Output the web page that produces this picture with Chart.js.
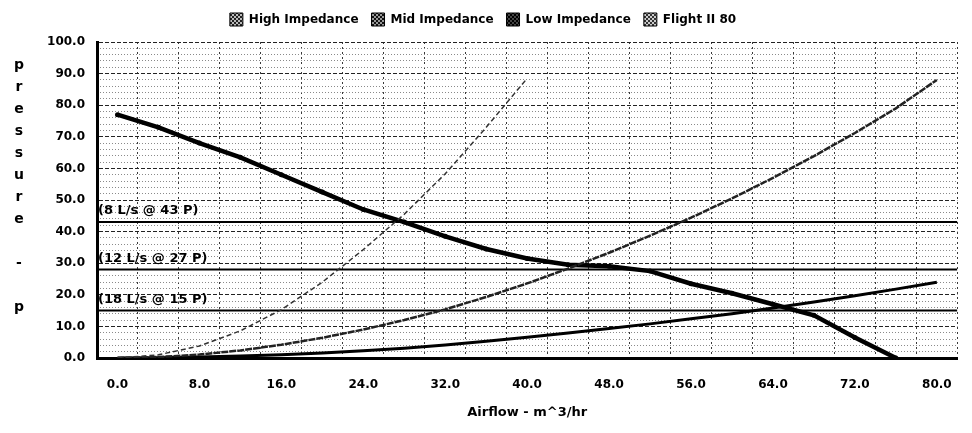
<!DOCTYPE html>
<html>
<head>
<meta charset="utf-8">
<script src="https://cdn.jsdelivr.net/npm/chart.js@4.4.0/dist/chart.umd.min.js"></script>
<style>
  html, body { margin: 0; padding: 0; background: #fff; }
  #wrap { position: relative; width: 972px; height: 433px; }
</style>
</head>
<body>
<div id="wrap"><canvas id="chart" width="972" height="433"></canvas></div>
<script>
const seriesNames = ["High Impedance", "Mid Impedance", "Low Impedance", "Flight II 80"];

// system curves (airflow m^3/hr -> pressure)
const highFlow = [0, 4, 8, 12, 16, 20, 24, 28, 32, 36, 40];
const highPressure = [0, 1.0, 3.8, 8.6, 15.3, 24.0, 34.3, 45.5, 58.3, 73.0, 88.5];

const impFlow = [0, 4, 8, 12, 16, 20, 24, 28, 32, 36, 40, 44, 48, 52, 56, 60, 64, 68, 72, 76, 80];
const midPressure = [0, 0.3, 1.1, 2.4, 4.2, 6.4, 9.0, 12.0, 15.4, 19.3, 23.6, 28.3, 33.3, 38.7, 44.4, 50.5, 57.0, 63.9, 71.2, 79.0, 88.0];
const lowPressure = [0, 0.1, 0.3, 0.6, 1.0, 1.6, 2.3, 3.1, 4.1, 5.3, 6.6, 7.9, 9.3, 10.8, 12.4, 14.0, 15.8, 17.7, 19.7, 21.8, 24.0];

// fan curve
const fanFlow = [0, 4, 8, 12, 16, 20, 24, 28, 32, 36, 40, 44, 48, 52, 56, 60, 64, 68, 72, 76];
const fanPressure = [77, 73, 68, 63.5, 58, 52.5, 47, 43, 38.5, 34.5, 31.5, 29.5, 29, 27.5, 23.5, 20.5, 17, 13.5, 6.5, 0];

// operating point lines
const refLabels = ["(8 L/s @ 43 P)", "(12 L/s @ 27 P)", "(18 L/s @ 15 P)"];
const refPressure = [43, 28, 15];

const xTicks = [0, 8, 16, 24, 32, 40, 48, 56, 64, 72, 80];
const yTicks = [0, 10, 20, 30, 40, 50, 60, 70, 80, 90, 100];
const xTitle = "Airflow - m^3/hr";
const yTitle = "pressure - p";

const xMin = -2;
const xMax = 82;

Chart.defaults.font.family = "'DejaVu Sans', sans-serif";
Chart.defaults.font.size = 12;
Chart.defaults.font.weight = "bold";
Chart.defaults.color = "#000";

function toPoints(xs, ys) {
    return ys.map((y, i) => ({ x: xs[i], y: y }));
}

function dither(bg, fg) {
    const c = document.createElement("canvas");
    c.width = 4;
    c.height = 4;
    const g = c.getContext("2d");
    g.fillStyle = bg;
    g.fillRect(0, 0, 4, 4);
    g.fillStyle = fg;
    g.fillRect(0, 0, 2, 2);
    g.fillRect(2, 2, 2, 2);
    return g.createPattern(c, "repeat");
}

const legendFills = [
    dither("#bbb", "#222"),
    dither("#999", "#111"),
    dither("#444", "#000"),
    dither("#ccc", "#333"),
];

const datasets = [
    {
        label: seriesNames[0],
        data: toPoints(highFlow, highPressure),
        borderColor: "#333",
        borderWidth: 1.5,
        borderDash: [5, 3],
        pointRadius: 0,
    },
    {
        label: seriesNames[1],
        data: toPoints(impFlow, midPressure),
        borderColor: "#222",
        borderWidth: 2.5,
        borderDash: [7, 1],
        pointRadius: 0,
    },
    {
        label: seriesNames[2],
        data: toPoints(impFlow, lowPressure),
        borderColor: "#000",
        borderWidth: 3,
        pointRadius: 0,
    },
    {
        label: seriesNames[3],
        data: toPoints(fanFlow, fanPressure),
        borderColor: "#000",
        borderWidth: 4.5,
        pointRadius: 2.5,
        pointBorderWidth: 0,
        pointBackgroundColor: "#000",
    },
];

for (let i = 0; i < refPressure.length; i++) {
    datasets.push({
        label: refLabels[i],
        data: [
            { x: xMin, y: refPressure[i] },
            { x: xMax, y: refPressure[i] },
        ],
        borderColor: "#000",
        borderWidth: 2,
        pointRadius: 0,
    });
}

const legendSpace = {
    id: "legendSpace",
    beforeLayout(chart) {
        const lg = chart.legend;
        if (lg && !lg.fitPatched) {
            const fit = lg.fit;
            lg.fit = function () {
                fit.call(this);
                this.height = 42;
            };
            lg.fitPatched = true;
        }
    },
};

const chartText = {
    id: "chartText",
    afterDatasetsDraw(chart) {
        const { ctx, chartArea, scales } = chart;
        ctx.save();
        ctx.fillStyle = "#000";
        ctx.font = "bold 13px 'DejaVu Sans'";
        ctx.textAlign = "left";
        ctx.textBaseline = "alphabetic";
        for (let i = 0; i < refLabels.length; i++) {
            const y = scales.y.getPixelForValue(refPressure[i]);
            ctx.fillText(refLabels[i], chartArea.left + 1, y - 8);
        }

        // stacked letters for the y title
        ctx.font = "bold 14px 'DejaVu Sans'";
        ctx.textAlign = "center";
        ctx.textBaseline = "middle";
        const chars = Array.from(yTitle);
        for (let i = 0; i < chars.length; i++) {
            ctx.fillText(chars[i], 19, 65 + i * 22);
        }
        ctx.restore();
    },
};

const ctx = document.getElementById("chart").getContext("2d");

new Chart(ctx, {
    type: "line",
    data: { datasets: datasets },
    plugins: [legendSpace, chartText],
    options: {
        responsive: false,
        animation: false,
        devicePixelRatio: 1,
        layout: { padding: { left: 0, right: 6, top: 0, bottom: 0 } },
        plugins: {
            tooltip: { enabled: false },
            legend: {
                position: "top",
                labels: {
                    boxWidth: 13,
                    boxHeight: 13,
                    padding: 13,
                    color: "#000",
                    font: { size: 12, weight: "bold" },
                    filter: (item) => item.datasetIndex < 4,
                    generateLabels(chart) {
                        const items = Chart.defaults.plugins.legend.labels.generateLabels(chart);
                        items.forEach((it) => {
                            it.lineWidth = 1;
                            it.lineDash = [];
                            it.strokeStyle = "#000";
                            it.fillStyle = legendFills[it.datasetIndex] || "#000";
                        });
                        return items;
                    },
                },
            },
        },
        scales: {
            x: {
                type: "linear",
                position: "bottom",
                min: xMin,
                max: xMax,
                ticks: { display: false, stepSize: 4 },
                grid: { color: "#3a3a3a", lineWidth: 1, drawTicks: false },
                border: { display: true, color: "#000", width: 3, dash: [2, 3] },
                afterFit(s) {
                    s.height = 0;
                },
            },
            xLabels: {
                type: "linear",
                position: "bottom",
                min: xMin,
                max: xMax,
                afterBuildTicks(s) {
                    s.ticks = xTicks.map((v) => ({ value: v }));
                },
                ticks: {
                    padding: 20,
                    autoSkip: false,
                    maxRotation: 0,
                    callback: (v) => Number(v).toFixed(1),
                },
                grid: { display: false, drawTicks: false },
                border: { display: false },
                title: {
                    display: true,
                    text: xTitle,
                    color: "#000",
                    font: { size: 13, weight: "bold" },
                    padding: { top: 4, bottom: 13 },
                },
                afterFit(s) {
                    s.height = 75;
                },
            },
            y: {
                type: "linear",
                position: "left",
                min: 0,
                max: 100,
                afterBuildTicks(s) {
                    s.ticks = yTicks.map((v) => ({ value: v }));
                },
                ticks: {
                    padding: 12,
                    autoSkip: false,
                    callback: (v) => Number(v).toFixed(1),
                },
                grid: { color: "#222", lineWidth: 1, drawTicks: false },
                border: { display: true, color: "#000", width: 3, dash: [4, 2] },
                afterFit(s) {
                    s.width = 97;
                },
            },
            yMinor: {
                type: "linear",
                position: "left",
                min: 0,
                max: 100,
                ticks: { display: false, stepSize: 2 },
                grid: {
                    color: (c) => (c.tick && c.tick.value % 10 === 0 ? "rgba(0,0,0,0)" : "#8a8a8a"),
                    lineWidth: 1,
                    drawTicks: false,
                },
                border: { display: false, dash: [1, 2] },
                afterFit(s) {
                    s.width = 0;
                },
            },
        },
    },
});
</script>
</body>
</html>
